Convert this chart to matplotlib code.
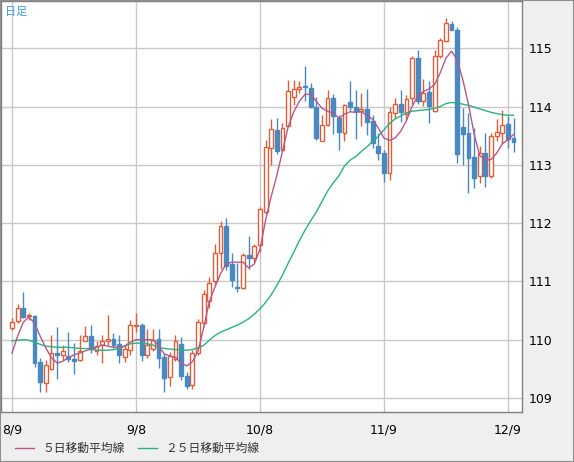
import matplotlib
matplotlib.use('Agg')
import matplotlib.pyplot as plt
from matplotlib.lines import Line2D
from matplotlib.patches import Rectangle
import numpy as np

# daily USD/JPY candles, 8/9 .. 12/10 (one entry per trading day)
opens = [110.20, 110.32, 110.54, 110.40, 110.41, 109.61, 109.25, 109.49, 109.78, 109.73,
         109.72, 109.67, 109.65, 109.98, 110.06, 109.81, 109.91, 109.97, 110.01, 109.92,
         109.71, 109.82, 110.24, 110.25, 109.73, 109.84, 110.01, 109.71, 109.36, 109.67,
         109.92, 109.38, 109.22, 109.77, 110.29, 110.66, 111.01, 111.49, 111.95, 111.30,
         110.90, 110.89, 111.45, 111.41, 111.62, 112.19, 113.28, 113.60, 113.25, 113.67,
         114.16, 114.30, 114.36, 114.31, 113.99, 113.41, 113.69, 114.14, 113.81, 113.55,
         114.07, 114.00, 113.93, 113.96, 113.75, 113.32, 113.21, 112.86, 113.89, 114.05,
         113.88, 114.14, 114.83, 114.09, 114.25, 113.92, 114.86, 115.13, 115.41, 115.32,
         113.65, 113.55, 113.14, 112.80, 113.20, 112.80, 113.49, 113.55, 113.70, 113.46]
highs = [110.37, 110.61, 110.81, 110.45, 110.43, 109.69, 109.65, 110.08, 110.21, 109.91,
         110.14, 109.94, 110.08, 110.23, 110.26, 109.97, 110.08, 110.42, 110.12, 110.08,
         109.91, 110.34, 110.45, 110.29, 110.18, 110.18, 110.18, 109.77, 109.79, 110.08,
         110.05, 109.45, 109.82, 110.35, 110.85, 111.07, 111.64, 112.04, 112.08, 111.49,
         111.32, 111.49, 111.78, 111.65, 112.28, 113.43, 113.78, 113.80, 113.71, 114.45,
         114.45, 114.44, 114.69, 114.41, 114.16, 113.85, 114.28, 114.21, 113.85, 114.04,
         114.44, 114.28, 114.24, 114.30, 113.85, 113.54, 113.25, 114.00, 114.14, 114.28,
         114.20, 114.86, 114.97, 114.48, 114.43, 114.97, 115.17, 115.51, 115.47, 115.37,
         113.97, 113.89, 113.64, 113.33, 113.55, 113.55, 113.78, 113.94, 113.83, 113.80]
lows = [110.16, 110.28, 110.37, 110.34, 109.54, 109.11, 109.11, 109.48, 109.33, 109.65,
        109.62, 109.42, 109.63, 109.97, 109.78, 109.74, 109.60, 109.91, 109.85, 109.60,
        109.61, 109.74, 110.14, 109.63, 109.68, 109.81, 109.51, 109.11, 109.21, 109.63,
        109.31, 109.15, 109.15, 109.74, 110.24, 110.54, 110.93, 111.21, 111.20, 110.91,
        110.82, 110.87, 111.21, 111.34, 111.51, 112.16, 113.00, 113.18, 113.22, 113.66,
        114.03, 114.23, 114.10, 113.97, 113.43, 113.40, 113.66, 113.53, 113.25, 113.41,
        113.93, 113.44, 113.67, 113.51, 113.28, 113.08, 112.71, 112.74, 113.81, 113.74,
        113.77, 114.05, 114.04, 114.01, 113.72, 113.91, 114.84, 115.11, 115.31, 113.03,
        113.00, 112.52, 112.60, 112.69, 112.62, 112.78, 113.40, 113.35, 113.28, 113.22]
closes = [110.30, 110.54, 110.39, 110.42, 109.60, 109.27, 109.57, 109.78, 109.74, 109.81,
          109.67, 109.63, 109.81, 110.06, 109.84, 109.90, 109.98, 110.01, 109.91, 109.73,
          109.84, 110.26, 110.26, 109.73, 109.91, 110.00, 109.69, 109.35, 109.72, 109.98,
          109.38, 109.21, 109.77, 110.30, 110.78, 110.97, 111.48, 111.95, 111.27, 111.02,
          110.88, 111.46, 111.41, 111.61, 112.25, 113.30, 113.61, 113.24, 113.64, 114.27,
          114.30, 114.34, 114.34, 113.99, 113.46, 113.69, 114.14, 113.83, 113.56, 114.03,
          113.99, 113.93, 113.95, 113.74, 113.37, 113.21, 112.86, 113.90, 114.05, 113.91,
          114.13, 114.83, 114.10, 114.24, 114.01, 114.87, 115.14, 115.43, 115.32, 113.19,
          113.53, 113.12, 112.78, 113.20, 112.81, 113.49, 113.56, 113.69, 113.44, 113.39]

ma5 = [109.77, 110.06, 110.30, 110.39, 110.28, 110.06, 109.86, 109.69, 109.60, 109.63,
       109.69, 109.74, 109.77, 109.81, 109.84, 109.87, 109.91, 109.89, 109.87, 109.87,
       109.89, 109.96, 110.00, 110.00, 110.00, 110.00, 109.90, 109.76, 109.72, 109.70,
       109.60, 109.55, 109.62, 109.80, 110.20, 110.65, 110.90, 111.13, 111.30, 111.33,
       111.33, 111.33, 111.23, 111.30, 111.55, 112.05, 112.46, 112.82, 113.23, 113.65,
       113.91, 114.09, 114.21, 114.21, 114.09, 113.97, 113.92, 113.89, 113.80, 113.87,
       113.91, 113.90, 113.91, 113.85, 113.78, 113.63, 113.46, 113.42, 113.46, 113.58,
       113.76, 114.00, 114.18, 114.26, 114.30, 114.38, 114.58, 114.83, 114.95, 114.80,
       114.46, 114.04, 113.53, 113.16, 113.08, 113.09, 113.20, 113.36, 113.43, 113.52]
ma25 = [109.98, 109.99, 110.00, 109.99, 109.96, 109.92, 109.89, 109.88, 109.87, 109.87,
        109.87, 109.86, 109.85, 109.85, 109.84, 109.82, 109.82, 109.82, 109.83, 109.85,
        109.89, 109.93, 109.94, 109.94, 109.93, 109.91, 109.87, 109.85, 109.84, 109.83,
        109.83, 109.82, 109.83, 109.86, 109.90, 109.99, 110.07, 110.13, 110.17, 110.21,
        110.25, 110.30, 110.36, 110.44, 110.53, 110.64, 110.77, 110.93, 111.11, 111.31,
        111.50, 111.70, 111.88, 112.04, 112.19, 112.37, 112.55, 112.69, 112.81, 112.98,
        113.08, 113.14, 113.23, 113.31, 113.40, 113.49, 113.60, 113.71, 113.79, 113.84,
        113.89, 113.92, 113.93, 113.94, 113.95, 113.97, 114.00, 114.05, 114.07, 114.06,
        114.04, 114.02, 113.99, 113.96, 113.93, 113.90, 113.88, 113.86, 113.85, 113.85]

tick_pos = [0, 22, 44, 66, 88]
tick_labels = ['8/9', '9/8', '10/8', '11/9', '12/9']
y_ticks = [109, 110, 111, 112, 113, 114, 115]

up_col = '#d9603b'
down_col = '#4a88c0'
ma5_col = '#b5588c'
ma25_col = '#2bb27a'
grid_col = '#c8c8c8'
jp = ['Noto Sans CJK JP', 'DejaVu Sans']

plt.rcParams['font.family'] = ['DejaVu Sans']

fig = plt.figure(figsize=(5.74, 4.62), dpi=100)
fig.patch.set_facecolor('#efefef')
ax = fig.add_axes([1 / 574, 1 - 412 / 462, 521 / 574, 411 / 462])
ax.set_facecolor('white')

x = np.arange(len(closes))
o = np.array(opens); c = np.array(closes)
h = np.array(highs); l = np.array(lows)
up = c >= o

ax.vlines(x[up], l[up], h[up], color=up_col, lw=1, zorder=3)
ax.vlines(x[~up], l[~up], h[~up], color=down_col, lw=1, zorder=3)
bw = 0.68
ax.bar(x[up], (c - o)[up], bottom=o[up], width=bw, facecolor='white',
       edgecolor=up_col, lw=1, zorder=4)
ax.bar(x[~up], (o - c)[~up], bottom=c[~up], width=bw, facecolor=down_col,
       edgecolor=down_col, lw=1, zorder=4)

ax.plot(x, ma25, color=ma25_col, lw=1, zorder=5)
ax.plot(x, ma5, color=ma5_col, lw=1, zorder=6)

ax.set_xlim(-1.95, 90.5)
ax.set_ylim(108.76, 115.81)
ax.set_xticks(tick_pos)
ax.set_xticklabels(tick_labels)
ax.set_yticks(y_ticks)
ax.yaxis.tick_right()
ax.tick_params(axis='both', length=0, labelsize=9, colors='black')
ax.tick_params(axis='x', pad=8)
ax.tick_params(axis='y', pad=5)
ax.grid(True, color=grid_col, lw=1, zorder=0)
ax.set_axisbelow(True)
for s in ax.spines.values():
    s.set_color('#808080')
    s.set_linewidth(1)

ax.text(0.008, 0.985, '日足', transform=ax.transAxes, ha='left', va='top',
        fontsize=8, color='#3a9ad9', family=jp)

# legend along the bottom
ly = 1 - 448 / 462
fig.add_artist(Line2D([15 / 574, 34 / 574], [ly, ly], color=ma5_col, lw=1))
fig.text(42 / 574, ly, '５日移動平均線', ha='left', va='center', fontsize=8.5,
         color='#333333', family=jp)
fig.add_artist(Line2D([138 / 574, 157 / 574], [ly, ly], color=ma25_col, lw=1))
fig.text(165 / 574, ly, '２５日移動平均線', ha='left', va='center', fontsize=8.5,
         color='#333333', family=jp)

fig.add_artist(Rectangle((0, 0), 1, 1, transform=fig.transFigure, fill=False,
                         edgecolor='#909090', lw=1.5))

fig.savefig('out.png', dpi=100, facecolor=fig.get_facecolor())
